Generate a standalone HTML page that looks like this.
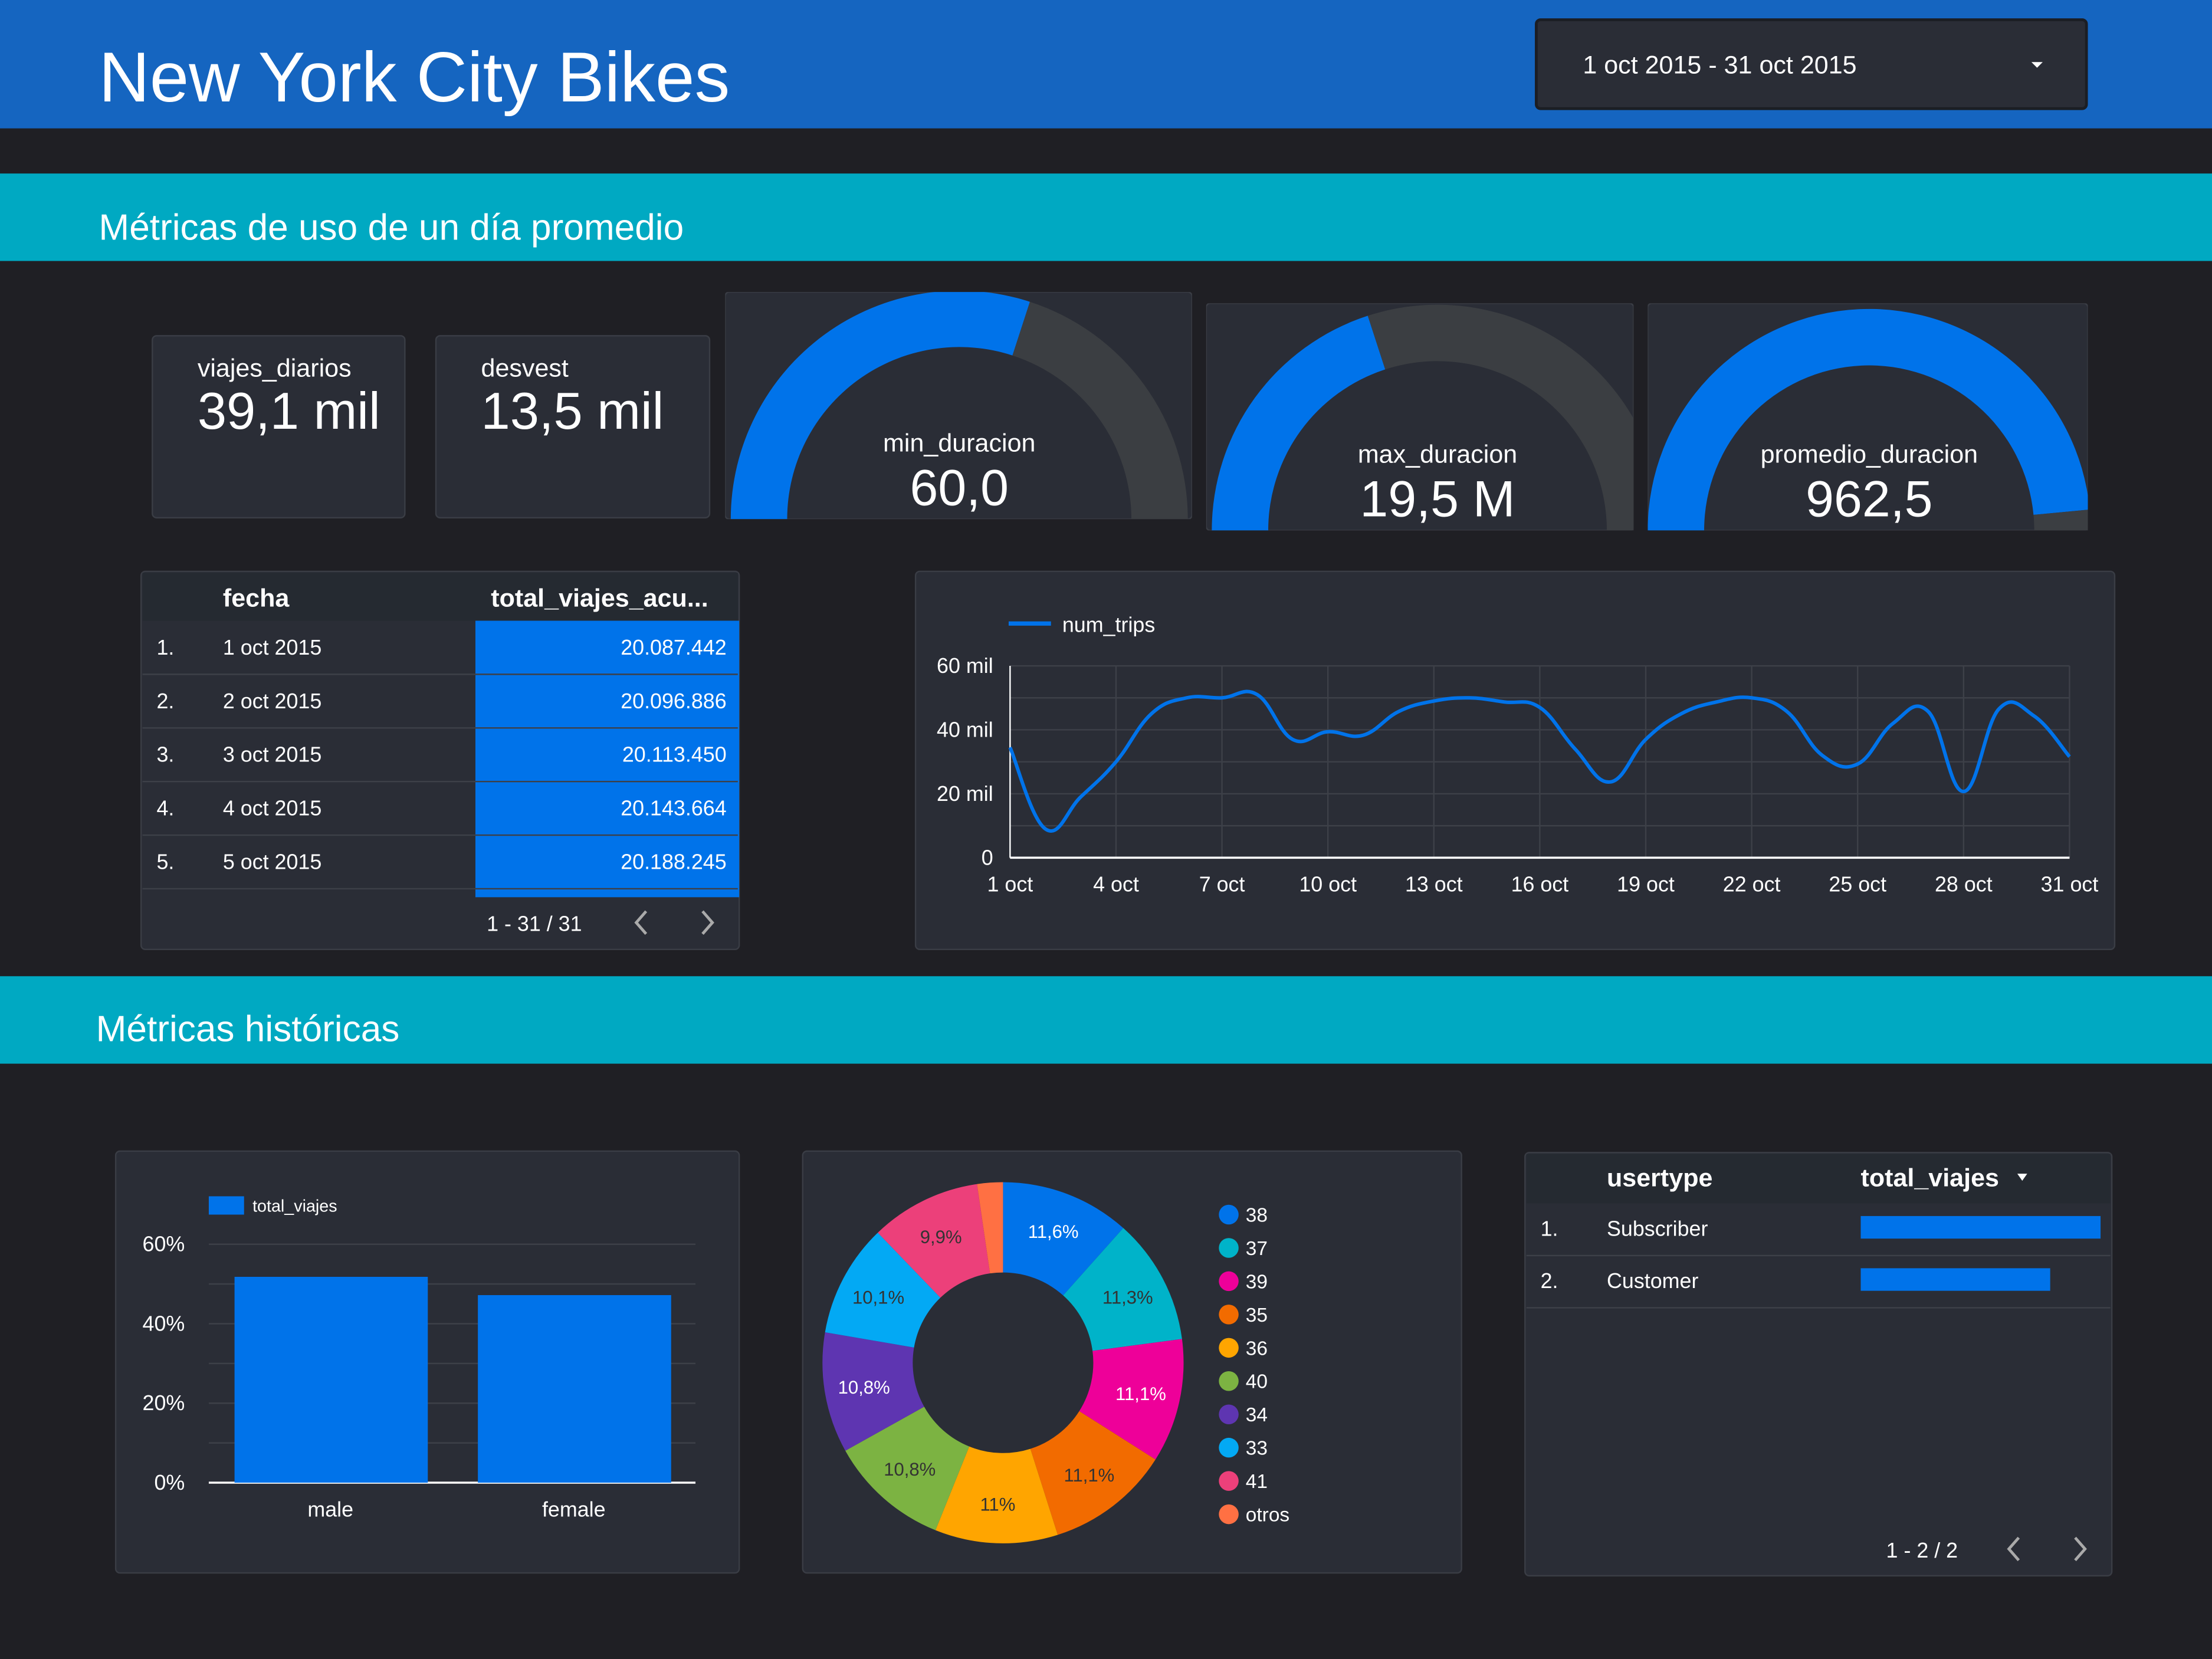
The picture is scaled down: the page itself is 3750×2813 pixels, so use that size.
<!DOCTYPE html>
<html><head><meta charset="utf-8">
<style>
html,body{margin:0;padding:0;background:#1f1f24;}
svg{display:block;font-family:"Liberation Sans","DejaVu Sans",sans-serif;}
</style></head>
<body>
<svg id="root" width="3750" height="2813" viewBox="0 0 1568 1176" preserveAspectRatio="none" xmlns="http://www.w3.org/2000/svg">
<rect x="0" y="0" width="1568" height="1176" fill="#1f1f24"/>
<!-- header -->
<rect x="0" y="0" width="1568" height="91" fill="#1565c0"/>
<text x="70" y="72" font-size="50" fill="#fff">New York City Bikes</text>
<g>
<rect x="1089" y="14" width="390" height="63" rx="3" fill="#2a2d36" stroke="#1b1e24" stroke-width="2"/>
<text x="1122" y="52" font-size="18" fill="#fff">1 oct 2015 - 31 oct 2015</text>
<polygon points="1440,44 1448,44 1444,48" fill="#fff"/>
</g>
<rect x="0" y="123" width="1568" height="62" fill="#00a9c2"/>
<text x="70" y="170" font-size="26" fill="#fff">Métricas de uso de un día promedio</text>
<rect x="0" y="692" width="1568" height="62" fill="#00a9c2"/>
<text x="68" y="738" font-size="26" fill="#fff">Métricas históricas</text>

<!-- KPI cards -->
<g>
<rect x="108" y="238" width="179" height="129" rx="3" fill="#2a2d36" stroke="#3a3d45"/>
<text x="140" y="267" font-size="18" fill="#fff">viajes_diarios</text>
<text x="140" y="304" font-size="37" fill="#fff">39,1 mil</text>
</g>
<g>
<rect x="309" y="238" width="194" height="129" rx="3" fill="#2a2d36" stroke="#3a3d45"/>
<text x="341" y="267" font-size="18" fill="#fff">desvest</text>
<text x="341" y="304" font-size="37" fill="#fff">13,5 mil</text>
</g>
<defs id="defs"></defs>
<g id="gauges"></g>

<!-- table 1 -->
<g>
<rect x="100" y="405" width="424" height="268" rx="3" fill="#2a2d36" stroke="#3a3d45"/>
<rect x="101" y="406" width="422" height="34" fill="#252a31"/>
<text x="158" y="430" font-size="18" font-weight="bold" fill="#fff">fecha</text>
<text x="348" y="430" font-size="18" font-weight="bold" fill="#fff">total_viajes_acu...</text>
<g id="t1rows"></g>
<text x="345" y="660" font-size="15" fill="#fff">1 - 31 / 31</text>
<polyline points="458,646 451,654 458,662" fill="none" stroke="#aaa" stroke-width="2"/>
<polyline points="498,646 505,654 498,662" fill="none" stroke="#aaa" stroke-width="2"/>
</g>

<!-- line chart -->
<g>
<rect x="649" y="405" width="850" height="268" rx="3" fill="#2a2d36" stroke="#3a3d45"/>
<line x1="715" y1="442" x2="745" y2="442" stroke="#0073ea" stroke-width="3"/>
<text x="753" y="448" font-size="15" fill="#fff">num_trips</text>
<g id="linechart"></g>
</g>

<!-- bar chart -->
<g>
<rect x="82" y="816" width="442" height="299" rx="3" fill="#2a2d36" stroke="#3a3d45"/>
<rect x="148" y="848" width="25" height="13" fill="#0073ea"/>
<text x="179" y="859" font-size="12" fill="#fff">total_viajes</text>
<g id="barchart"></g>
</g>

<!-- donut -->
<g>
<rect x="569" y="816" width="467" height="299" rx="3" fill="#2a2d36" stroke="#3a3d45"/>
<g id="donut"></g>
</g>

<!-- table 2 -->
<g>
<rect x="1081" y="817" width="416" height="300" rx="3" fill="#2a2d36" stroke="#3a3d45"/>
<rect x="1082" y="818" width="414" height="35" fill="#252a31"/>
<text x="1139" y="841" font-size="18" font-weight="bold" fill="#fff">usertype</text>
<text x="1319" y="841" font-size="18" font-weight="bold" fill="#fff">total_viajes</text>
<polygon points="1430,832 1437,832 1433.5,837" fill="#fff"/>
<g id="t2rows"></g>
<text x="1337" y="1104" font-size="15" fill="#fff">1 - 2 / 2</text>
<polyline points="1431,1090 1424,1098 1431,1106" fill="none" stroke="#aaa" stroke-width="2"/>
<polyline points="1471,1090 1478,1098 1471,1106" fill="none" stroke="#aaa" stroke-width="2"/>
</g>
</svg>
<script>
const NS="http://www.w3.org/2000/svg";
function mk(tag,attrs,parent,txt){const e=document.createElementNS(NS,tag);for(const k in attrs)e.setAttribute(k,attrs[k]);if(txt!==undefined)e.textContent=txt;parent.appendChild(e);return e;}

// ---- data ----
const gaugeLabels=["min_duracion","max_duracion","promedio_duracion"];
const gaugeValues=["60,0","19,5 M","962,5"];
const gaugeFractions=[0.6,0.4,0.97];
const tableDates=["1 oct 2015","2 oct 2015","3 oct 2015","4 oct 2015","5 oct 2015"];
const tableTotals=["20.087.442","20.096.886","20.113.450","20.143.664","20.188.245"];
const days=[1,2,3,4,5,6,7,8,9,10,11,12,13,14,15,16,17,18,19,20,21,22,23,24,25,26,27,28,29,30,31];
const tripsK=[34.5,9,19,30,45,50,50,51,37,39.4,38.3,45.7,49,50,48.7,47,34,23.7,37,45,48.7,50,45.7,32,29.3,42,45.7,20.7,46.5,44.3,31.6];
const lineYTicks=[0,20,40,60];
const lineYTickLabels=["0","20 mil","40 mil","60 mil"];
const genders=["male","female"];
const genderPct=[51.8,47.2];
const barYTicks=[0,20,40,60];
const ageLabels=["38","37","39","35","36","40","34","33","41","otros"];
const agePct=[11.6,11.3,11.1,11.1,11,10.8,10.8,10.1,9.9,2.3];
const ageColors=["#0073ea","#00b3c9","#ee0099","#f26b00","#ffa500","#7cb342","#5e35b1","#03a9f4","#ec407a","#ff7043"];
const ageLabelText=["11,6%","11,3%","11,1%","11,1%","11%","10,8%","10,8%","10,1%","9,9%",""];
const userTypes=["Subscriber","Customer"];
const userTrips=[100,79];

// ---- gauges ----
const gG=document.getElementById('gauges');
const defs=document.getElementById('defs');
const gaugeBoxes=[[514,207,331,161,680,368,162,122],[855,215,303,161,1019,376,160,120],[1168,215,312,161,1325,376,157,117]];
gaugeBoxes.forEach((b,i)=>{
  const cp=mk('clipPath',{id:'gclip'+i},defs);
  mk('rect',{x:b[0],y:b[1],width:b[2],height:b[3]},cp);
  const g=mk('g',{'clip-path':'url(#gclip'+i+')'},gG);
  
  
  mk('rect',{x:b[0],y:b[1],width:b[2],height:b[3],rx:3,fill:'#2a2d36',stroke:'#3a3d45'},g);
  const cx=b[4],cy=b[5],R=b[6],r=b[7];
  function arc(f0,f1,col){
    const a0=Math.PI*(1-f0),a1=Math.PI*(1-f1);
    const p=(rad,a)=>[cx+rad*Math.cos(a),cy-rad*Math.sin(a)];
    const [x0,y0]=p(R,a0),[x1,y1]=p(R,a1),[x2,y2]=p(r,a1),[x3,y3]=p(r,a0);
    const large=(f1-f0)>1?1:0;
    mk('path',{d:`M${x0},${y0} A${R},${R} 0 ${large} 1 ${x1},${y1} L${x2},${y2} A${r},${r} 0 ${large} 0 ${x3},${y3} Z`,fill:col},g);
  }
  arc(0,gaugeFractions[i],'#0073ea');
  arc(gaugeFractions[i],1,'#3b3e42');
  mk('text',{x:cx,y:cy-48,'font-size':18,fill:'#fff','text-anchor':'middle'},g,gaugeLabels[i]);
  mk('text',{x:cx,y:cy-10,'font-size':36,fill:'#fff','text-anchor':'middle'},g,gaugeValues[i]);
});

// ---- table 1 ----
const t1=document.getElementById('t1rows');
mk('rect',{x:337,y:440,width:187,height:196,fill:'#0073ea'},t1);
tableDates.forEach((d,i)=>{
  const y=440+i*38;
  const row=mk('g',{},t1);
  
  
  mk('line',{x1:101,y1:y+38,x2:523,y2:y+38,stroke:'#3d4048'},row);
  mk('text',{x:111,y:y+24,'font-size':15,fill:'#fff'},row,(i+1)+'.');
  mk('text',{x:158,y:y+24,'font-size':15,fill:'#fff'},row,d);
  mk('text',{x:515,y:y+24,'font-size':15,fill:'#fff','text-anchor':'end'},row,tableTotals[i]);
});

// ---- line chart ----
const lc=document.getElementById('linechart');
const X0=716,X1=1467,Y0=608,Y1=472;
const xs=d=>X0+(d-1)/30*(X1-X0);
const ys=v=>Y0-v/60*(Y0-Y1);
for(let v=0;v<=60;v+=10){ if(v>0) mk('line',{x1:X0,y1:ys(v),x2:X1,y2:ys(v),stroke:'#3d4048'},lc); }
days.forEach(d=>{ if((d-1)%3===0&&d>1) mk('line',{x1:xs(d),y1:Y1,x2:xs(d),y2:Y0,stroke:'#3d4048'},lc); });
mk('line',{x1:X0,y1:Y1,x2:X0,y2:Y0,stroke:'#fff','stroke-width':1},lc);
mk('line',{x1:X0,y1:Y0,x2:X1,y2:Y0,stroke:'#fff','stroke-width':1.5},lc);
lineYTicks.forEach((v,i)=>{mk('text',{x:704,y:ys(v)+5,'font-size':15,fill:'#fff','text-anchor':'end'},lc,lineYTickLabels[i]);});
days.forEach(d=>{ if((d-1)%3===0) mk('text',{x:xs(d),y:632,'font-size':15,fill:'#fff','text-anchor':'middle'},lc,d+' oct'); });
const pts=days.map((d,i)=>[xs(d),ys(tripsK[i])]);
let dstr=`M${pts[0][0]},${pts[0][1]}`;
for(let i=0;i<pts.length-1;i++){
  const p0=pts[Math.max(0,i-1)],p1=pts[i],p2=pts[i+1],p3=pts[Math.min(pts.length-1,i+2)];
  const t=0.2;
  dstr+=` C${p1[0]+(p2[0]-p0[0])*t},${p1[1]+(p2[1]-p0[1])*t} ${p2[0]-(p3[0]-p1[0])*t},${p2[1]-(p3[1]-p1[1])*t} ${p2[0]},${p2[1]}`;
}
const line=mk('path',{d:dstr,fill:'none',stroke:'#0073ea','stroke-width':2.5},lc);



// ---- bar chart ----
const bc=document.getElementById('barchart');
const BY0=1051,BY1=882,BX0=148,BX1=493;
const bys=v=>BY0-v/60*(BY0-BY1);
for(let v=10;v<=60;v+=10) mk('line',{x1:BX0,y1:bys(v),x2:BX1,y2:bys(v),stroke:'#3d4048'},bc);
mk('line',{x1:BX0,y1:BY0,x2:BX1,y2:BY0,stroke:'#fff','stroke-width':1.5},bc);
barYTicks.forEach(v=>mk('text',{x:131,y:bys(v)+5,'font-size':15,fill:'#fff','text-anchor':'end'},bc,v+'%'));
const bw=(BX1-BX0)/genders.length;
genders.forEach((g,i)=>{
  const cx=BX0+bw*(i+0.5);
  const r=mk('rect',{x:cx-68,y:bys(genderPct[i]),width:137,height:BY0-bys(genderPct[i]),fill:'#0073ea'},bc);
  
  
  mk('text',{x:cx,y:1075,'font-size':15,fill:'#fff','text-anchor':'middle'},bc,g);
});

// ---- donut ----
const dn=document.getElementById('donut');
const DCX=711,DCY=966,DR=128,Dr=64;
const tot=agePct.reduce((a,b)=>a+b,0);
let acc=0;
agePct.forEach((v,i)=>{
  const a0=acc/tot*2*Math.PI, a1=(acc+v)/tot*2*Math.PI; acc+=v;
  const P=(rad,a)=>[DCX+rad*Math.sin(a),DCY-rad*Math.cos(a)];
  const [x0,y0]=P(DR,a0),[x1,y1]=P(DR,a1),[x2,y2]=P(Dr,a1),[x3,y3]=P(Dr,a0);
  const lg=(a1-a0)>Math.PI?1:0;
  const s=mk('path',{d:`M${x0},${y0} A${DR},${DR} 0 ${lg} 1 ${x1},${y1} L${x2},${y2} A${Dr},${Dr} 0 ${lg} 0 ${x3},${y3} Z`,fill:ageColors[i]},dn);
  
  
  if(ageLabelText[i]){
    const [lx,ly]=P((DR+Dr)/2+4,(a0+a1)/2);
    const dark=[1,3,4,5,7,8].includes(i);
    mk('text',{x:lx,y:ly+5,'font-size':13,fill:dark?'#333':'#fff','text-anchor':'middle'},dn,ageLabelText[i]);
  }
  const ly=861+i*23.6;
  const le=mk('g',{},dn);
  
  
  mk('circle',{cx:871,cy:ly,r:7,fill:ageColors[i]},le);
  mk('text',{x:883,y:ly+5,'font-size':14,fill:'#fff'},le,ageLabels[i]);
});

// ---- table 2 ----
const t2=document.getElementById('t2rows');
const maxU=Math.max(...userTrips);
userTypes.forEach((u,i)=>{
  const y=853+i*37;
  const row=mk('g',{},t2);
  
  
  mk('line',{x1:1082,y1:y+37,x2:1496,y2:y+37,stroke:'#3d4048'},row);
  mk('text',{x:1092,y:y+23,'font-size':15,fill:'#fff'},row,(i+1)+'.');
  mk('text',{x:1139,y:y+23,'font-size':15,fill:'#fff'},row,u);
  mk('rect',{x:1319,y:y+9,width:170*userTrips[i]/maxU,height:16,fill:'#0073ea'},row);
});
</script>
</body></html>
